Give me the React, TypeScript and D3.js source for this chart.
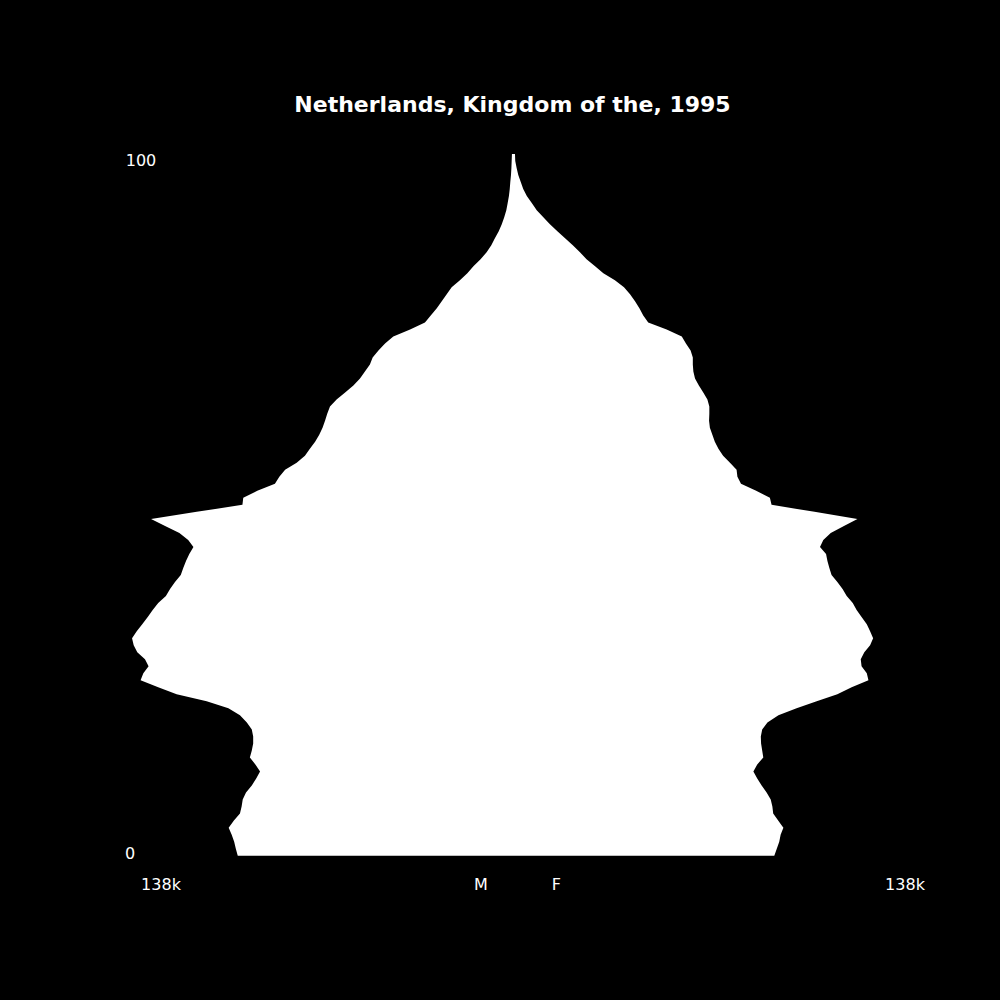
import * as d3 from 'd3';
import { useEffect, useRef } from 'react';

// population in thousands, ages 0..100
const ages = d3.range(0, 101);

const male = [
  99.8, 100.5, 101.1, 102.0, 103.1, 101.2, 99.0, 98.4, 98.0, 96.8,
  94.7, 93.1, 91.7, 93.4, 95.4, 94.7, 94.2, 94.2, 94.7, 96.5,
  99.0, 103.2, 111.1, 122.0, 128.7, 135.1, 134.1, 132.2, 133.5, 136.3,
  137.6, 138.2, 136.5, 134.5, 132.5, 130.7, 128.7, 125.9, 124.4, 122.6,
  120.5, 119.6, 118.6, 117.4, 115.9, 117.8, 121.0, 126.2, 131.3, 114.7,
  98.1, 97.8, 92.7, 86.3, 84.7, 82.6, 78.4, 75.4, 73.6, 71.7,
  70.2, 69.0, 68.1, 67.3, 66.3, 63.9, 60.8, 57.8, 55.4, 53.6,
  51.8, 50.8, 48.7, 46.3, 43.3, 37.2, 31.8, 29.7, 27.5, 25.7,
  23.9, 22.1, 19.1, 16.4, 14.2, 11.6, 9.4, 7.7, 6.4, 5.0,
  3.9, 3.0, 2.25, 1.75, 1.3, 1.0, 0.8, 0.55, 0.4, 0.3,
  0.2,
];

const female = [
  95.1, 96.0, 96.9, 97.4, 98.4, 96.5, 94.7, 94.4, 93.8, 92.3,
  90.5, 88.9, 87.5, 88.9, 91.1, 90.7, 90.3, 90.2, 90.7, 92.6,
  96.6, 103.2, 110.5, 118.0, 123.2, 129.3, 128.7, 126.8, 126.5, 127.8,
  129.9, 131.0, 129.9, 128.7, 126.8, 125.0, 123.6, 121.4, 119.9, 118.0,
  115.9, 115.1, 114.4, 113.9, 111.7, 112.9, 115.6, 120.4, 125.3, 109.7,
  94.1, 93.5, 88.5, 83.0, 81.7, 81.4, 79.0, 76.5, 74.8, 73.5,
  72.6, 71.7, 71.4, 71.5, 71.5, 70.8, 69.3, 67.7, 66.3, 65.7,
  65.5, 65.5, 64.7, 63.0, 61.5, 56.0, 49.3, 47.5, 46.1, 44.5,
  42.7, 40.5, 37.2, 33.0, 30.0, 26.9, 24.5, 21.9, 19.1, 16.3,
  13.6, 11.2, 8.8, 7.0, 5.2, 3.9, 3.0, 2.1, 1.5, 1.0,
  0.9,
];

const title = 'Netherlands, Kingdom of the, 1995';
const maxLabel = '138k';
const sexLabels = ['M', 'F'];

const dims = { width: 1000, height: 1000 };

export default function App() {
  const svgRef = useRef(null);

  useEffect(() => {
    const svg = d3.select(svgRef.current);
    svg.selectAll('*').remove();

    const lim = 138 * 1.02;
    const x = d3.scaleLinear().domain([-lim, lim]).range([125, 900]);
    const y = d3.scaleLinear().domain([0, 100]).range([855.7, 154]);

    svg
      .append('rect')
      .attr('width', dims.width)
      .attr('height', dims.height)
      .attr('fill', '#000');

    const area = d3
      .area<number>()
      .x0((i) => x(-male[i]))
      .x1((i) => x(female[i]))
      .y((i) => y(ages[i]));

    svg
      .append('path')
      .datum(ages.map((_, i) => i))
      .attr('d', area as any)
      .attr('fill', '#fff');

    const font = 'DejaVu Sans';

    svg
      .append('text')
      .attr('x', 512.5)
      .attr('y', 112)
      .attr('text-anchor', 'middle')
      .style('font-family', font)
      .style('font-weight', 'bold')
      .style('font-size', '22px')
      .attr('fill', '#fff')
      .text(title);

    const small = (tx: number, ty: number, s: string) =>
      svg
        .append('text')
        .attr('x', tx)
        .attr('y', ty)
        .attr('text-anchor', 'middle')
        .style('font-family', font)
        .style('font-size', '16px')
        .attr('fill', '#fff')
        .text(s);

    // age labels
    small(141, 166, '100');
    small(130, 859, '0');

    // bottom labels
    small(161, 890, maxLabel);
    small(905, 890, maxLabel);
    small(481, 890, sexLabels[0]);
    small(556.3, 890, sexLabels[1]);
  }, []);

  return (
    <div>
      <svg
        ref={svgRef}
        width={dims.width}
        height={dims.height}
        style={{ position: 'absolute', left: 0, top: 0 }}
      ></svg>
    </div>
  );
}
